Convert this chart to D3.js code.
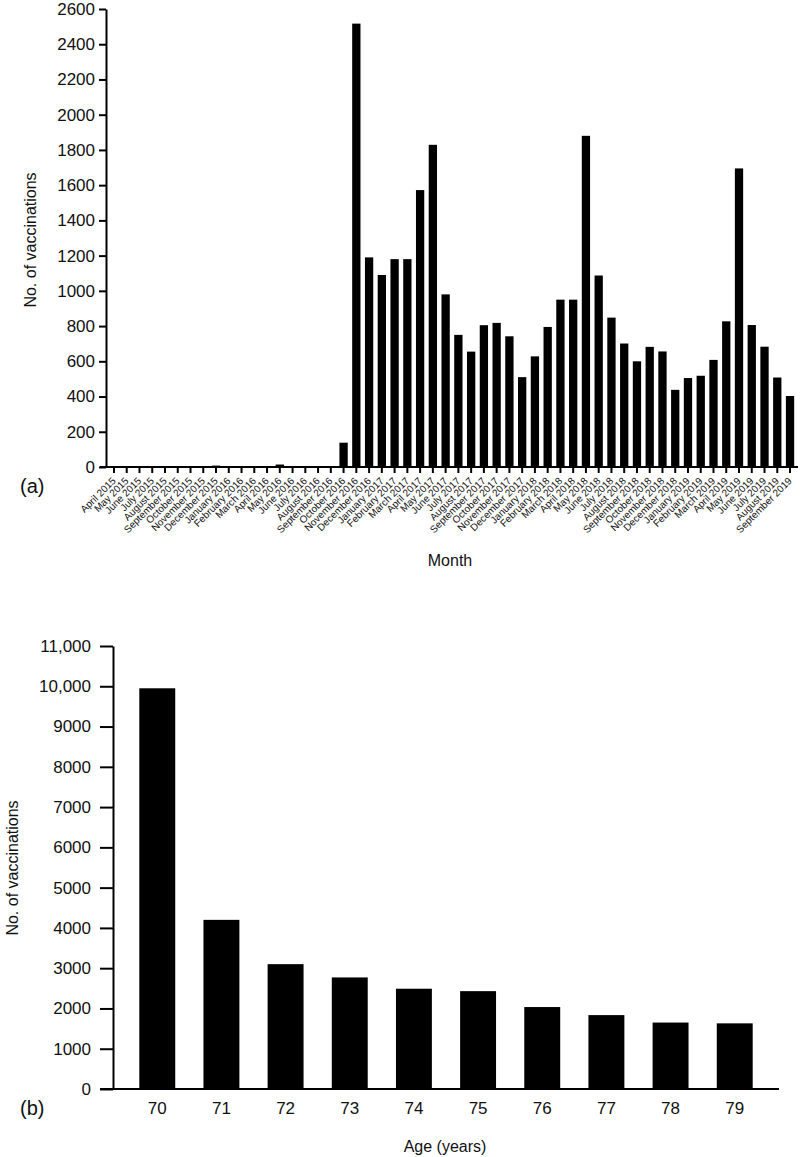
<!DOCTYPE html>
<html>
<head>
<meta charset="utf-8">
<script src="https://cdn.jsdelivr.net/npm/d3@7"></script>
<style>
  body { margin: 0; background: #fff; }
  svg { font-family: "Liberation Sans", Arial, sans-serif; }
  .domain, .tick line { stroke: #000; stroke-width: 2; }
  .tick text { fill: #111; }
</style>
</head>
<body>
<svg width="800" height="1157"></svg>
<script>
var width = 800;
var height = 1157;

// panel (a): monthly vaccinations
var months = ["April 2015","May 2015","June 2015","July 2015","August 2015","September 2015",
  "October 2015","November 2015","December 2015","January 2016","February 2016","March 2016",
  "April 2016","May 2016","June 2016","July 2016","August 2016","September 2016",
  "October 2016","November 2016","December 2016","January 2017","February 2017","March 2017",
  "April 2017","May 2017","June 2017","July 2017","August 2017","September 2017",
  "October 2017","November 2017","December 2017","January 2018","February 2018","March 2018",
  "April 2018","May 2018","June 2018","July 2018","August 2018","September 2018",
  "October 2018","November 2018","December 2018","January 2019","February 2019","March 2019",
  "April 2019","May 2019","June 2019","July 2019","August 2019","September 2019"];
var monthCounts = [3,5,0,0,0,0, 0,5,8,2,2,0, 3,14,5,0,0,0,
  138,2517,1190,1090,1180,1180, 1572,1829,980,750,655,805,
  818,742,510,628,795,950, 950,1880,1087,848,701,600,
  682,656,438,505,518,608, 827,1695,806,683,508,403];
var monthTicks = d3.range(0, 2601, 200);

// panel (b): vaccinations by age
var ages = ["70","71","72","73","74","75","76","77","78","79"];
var ageCounts = [9950,4200,3100,2770,2490,2430,2035,1835,1650,1630];
var ageTicks = d3.range(0, 11001, 1000);

var svg = d3.select("svg");

// ---------- (a) ----------
var xA = d3.scaleBand()
    .domain(months)
    .range([106, 798])
    .paddingInner(0.35)
    .paddingOuter(0.3);

var yA = d3.scaleLinear()
    .domain([0, 2600])
    .range([467, 9]);

var gA = svg.append("g");

gA.selectAll("rect")
  .data(monthCounts)
  .enter()
  .append("rect")
    .attr("x", (d, i) => xA(months[i]))
    .attr("width", xA.bandwidth())
    .attr("y", d => yA(d))
    .attr("height", d => yA(0) - yA(d))
    .attr("fill", "#000");

var xAxisA = gA.append("g")
    .attr("transform", "translate(0," + yA(0) + ")")
    .call(d3.axisBottom(xA).tickSize(6).tickSizeOuter(0));
xAxisA.select(".domain").attr("d", "M100,0H798");
xAxisA.selectAll("text")
    .attr("x", 0)
    .attr("y", 0)
    .attr("dy", "0.35em")
    .attr("transform", "translate(0,12) rotate(-45)")
    .style("text-anchor", "end")
    .style("font-size", "10px");

gA.append("g")
    .attr("transform", "translate(106,0)")
    .call(d3.axisLeft(yA).tickValues(monthTicks).tickSize(7).tickSizeOuter(0)
      .tickFormat(d3.format("d")))
    .selectAll("text")
    .style("font-size", "17px")
    .attr("x", -11);

gA.append("text")
    .attr("transform", "rotate(-90)")
    .attr("x", -240)
    .attr("y", 30)
    .attr("dy", "0.35em")
    .style("text-anchor", "middle")
    .style("font-size", "16px")
    .attr("fill", "#111")
    .text("No. of vaccinations");

gA.append("text")
    .attr("x", 450)
    .attr("y", 560)
    .attr("dy", "0.35em")
    .style("text-anchor", "middle")
    .style("font-size", "16px")
    .attr("fill", "#111")
    .text("Month");

gA.append("text")
    .attr("x", 20)
    .attr("y", 486)
    .attr("dy", "0.35em")
    .style("font-size", "20px")
    .attr("fill", "#111")
    .text("(a)");

// ---------- (b) ----------
var xB = d3.scaleBand()
    .domain(ages)
    .range([113, 779])
    .paddingInner(0.44)
    .paddingOuter(0.41);

var yB = d3.scaleLinear()
    .domain([0, 11000])
    .range([1089, 646]);

var gB = svg.append("g");

gB.selectAll("rect")
  .data(ageCounts)
  .enter()
  .append("rect")
    .attr("x", (d, i) => xB(ages[i]))
    .attr("width", xB.bandwidth())
    .attr("y", d => yB(d))
    .attr("height", d => yB(0) - yB(d))
    .attr("fill", "#000");

var xAxisB = gB.append("g")
    .attr("transform", "translate(0," + yB(0) + ")")
    .call(d3.axisBottom(xB).tickSize(0).tickSizeOuter(0));
xAxisB.select(".domain").attr("d", "M100,0H779");
xAxisB.selectAll("text")
    .attr("y", 19)
    .attr("dy", "0.35em")
    .style("font-size", "17px");

gB.append("g")
    .attr("transform", "translate(113,0)")
    .call(d3.axisLeft(yB).tickValues(ageTicks).tickSize(13).tickSizeOuter(0)
      .tickFormat(d => d >= 10000 ? d3.format(",")(d) : d3.format("d")(d)))
    .selectAll("text")
    .style("font-size", "17px")
    .attr("x", -22);

gB.append("text")
    .attr("transform", "rotate(-90)")
    .attr("x", -868)
    .attr("y", 12)
    .attr("dy", "0.35em")
    .style("text-anchor", "middle")
    .style("font-size", "16px")
    .attr("fill", "#111")
    .text("No. of vaccinations");

gB.append("text")
    .attr("x", 445)
    .attr("y", 1146)
    .attr("dy", "0.35em")
    .style("text-anchor", "middle")
    .style("font-size", "16px")
    .attr("fill", "#111")
    .text("Age (years)");

gB.append("text")
    .attr("x", 20)
    .attr("y", 1108)
    .attr("dy", "0.35em")
    .style("font-size", "20px")
    .attr("fill", "#111")
    .text("(b)");
</script>
</body>
</html>
